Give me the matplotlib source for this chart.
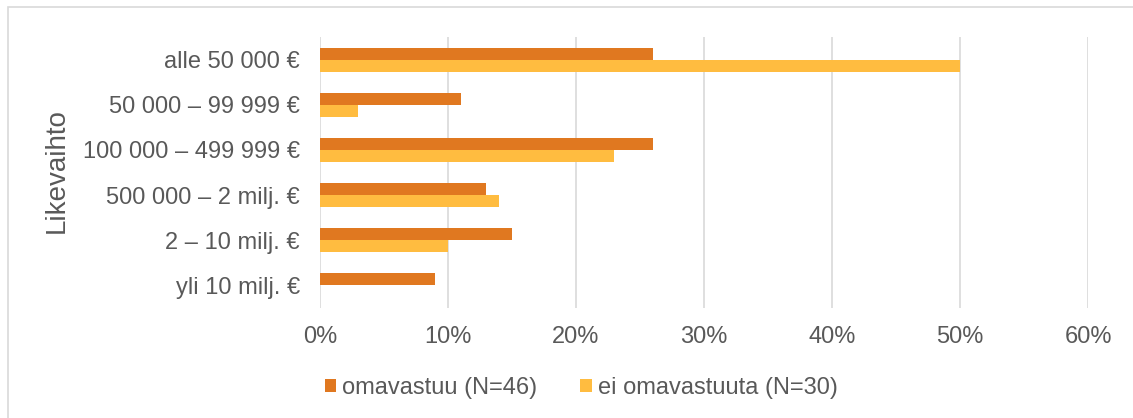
import numpy as np
import matplotlib.pyplot as plt
from matplotlib.patches import Rectangle
from matplotlib.ticker import PercentFormatter

categories = ["alle 50 000 €", "50 000 – 99 999 €", "100 000 – 499 999 €",
              "500 000 – 2 milj. €", "2 – 10 milj. €", "yli 10 milj. €"]
omavastuu = [26, 11, 26, 13, 15, 9]
ei_omavastuuta = [50, 3, 23, 14, 10, 0]
series_names = ["omavastuu (N=46)", "ei omavastuuta (N=30)"]
xticks = [0, 10, 20, 30, 40, 50, 60]

plt.rcParams['font.family'] = ['Liberation Sans', 'DejaVu Sans']
txt = "#595959"
c1 = "#E07820"
c2 = "#FFBC40"

W, H = 1133, 418
fig = plt.figure(figsize=(W / 100, H / 100), dpi=100)
# outer chart frame (only left/top visible in the crop)
fig.patches.append(Rectangle((8 / W, -0.05), 1.2, (H - 7) / H + 0.05,
                             transform=fig.transFigure, fill=False,
                             edgecolor="#d9d9d9", linewidth=1.2))

ax = fig.add_axes([320 / W, 1 - 308 / H, (1088 - 320) / W, (308 - 37) / H])
y = np.arange(len(categories))
h = 0.265
ax.barh(y - h / 2, omavastuu, height=h, color=c1, label=series_names[0], zorder=3)
ax.barh(y + h / 2, ei_omavastuuta, height=h, color=c2, label=series_names[1], zorder=3)

ax.set_ylim(len(categories) - 0.5, -0.5)
ax.set_xlim(0, 60)
ax.set_yticks(y)
ax.set_yticklabels(categories)
ax.set_xticks(xticks)
ax.xaxis.set_major_formatter(PercentFormatter(decimals=0))
ax.grid(axis="x", color="#d9d9d9", linewidth=1.2, zorder=0)
for s in ax.spines.values():
    s.set_visible(False)
ax.tick_params(length=0, labelsize=17, colors=txt)
ax.tick_params(axis="y", pad=14.4)
ax.tick_params(axis="x", pad=13)

fig.text(57 / W, 1 - 171 / H, "Likevaihto", rotation=90, fontsize=20,
         color=txt, ha="center", va="center")

leg = fig.legend(loc="center", bbox_to_anchor=(581 / W, 1 - 388 / H), ncol=2,
                 frameon=False, fontsize=17, handlelength=0.5, handleheight=0.5,
                 handletextpad=0.25, columnspacing=1.8, labelcolor=txt)

fig.savefig("out.png", dpi=100)
